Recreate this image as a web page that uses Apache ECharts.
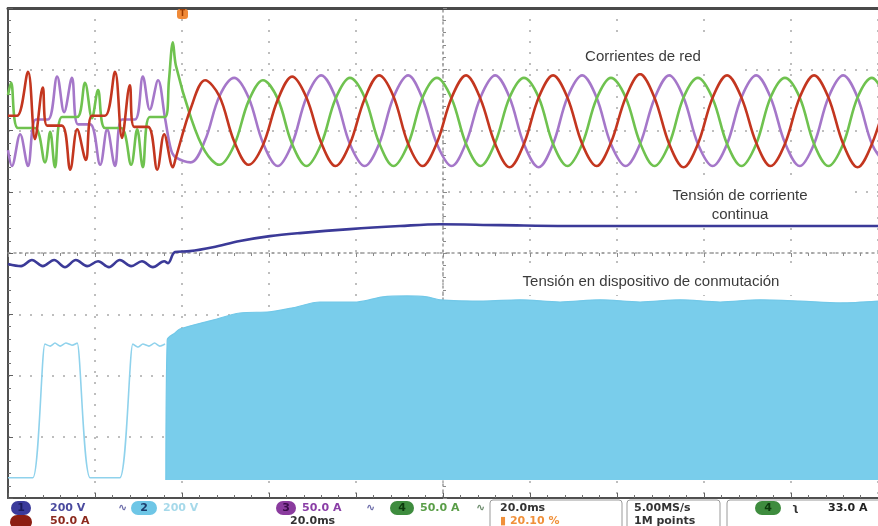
<!DOCTYPE html>
<html><head><meta charset="utf-8">
<script src="https://cdn.jsdelivr.net/npm/echarts@6/dist/echarts.min.js"></script>
<style>html,body{margin:0;padding:0;background:#fff}#c{width:878px;height:526px}</style>
</head><body><div id="c"></div>
<script>
// ---- time axis (ms), 20 ms/div, 10 divisions ----
const timeRange = [0, 200];
const triggerAt = 40;

// ---- phase currents before the converter starts (t ms, A) ----
const redStart = [[0,4],[2.1,4],[4.6,40],[6.2,-15],[8.0,27],[9.0,-4],[12.4,-4],[14.3,-40],[15.9,-7],[17.9,-32],[19.3,4],[22.3,4],[24.6,40],[26.2,-14],[28.0,29],[29.0,-5],[32.2,-5],[34.3,-40],[35.9,-11],[37.9,-38]];
const purpleStart = [[0,-24],[0.9,-37],[2.8,-11],[4.6,-37],[6.4,1],[9.2,1],[11.3,36],[12.9,7],[14.7,35],[16.1,-3],[18.9,-3],[21.2,-36],[22.8,-7],[24.6,-37],[26.2,1],[29.2,1],[31.0,36],[32.6,9],[34.5,33],[36.1,2],[37.5,-24]];
const greenStart = [[0,21],[0.7,31],[2.3,-6],[6.2,-6],[8.5,-34],[9.7,-9],[10.8,-38],[12.4,3],[15.9,3],[17.7,31],[19.3,2],[20.7,25],[22.3,-6],[26.0,-6],[28.3,-36],[29.7,-7],[31.0,-38],[32.6,3],[36.1,3],[37.0,33],[37.9,64]];

// ---- phase currents after start (shared time samples, ms) ----
const tMain = [38.6,42.0,45.3,48.6,52.0,55.3,58.6,62.0,65.3,68.6,72.0,75.3,78.6,82.0,85.3,88.6,92.0,95.3,98.6,102.0,105.3,108.6,112.0,115.3,118.6,122.0,125.3,128.6,132.0,135.3,138.6,142.0,145.3,148.6,152.0,155.3,158.6,162.0,165.3,168.6,172.0,175.3,178.6,182.0,185.3,188.6,192.0,195.3,198.6,202.0];
const redMain = [-30,10,33,20,-17,-36, -20,17,36,19,-18,-37, -19,18,37,20,-19,-37, -18,19,37,18,-19,-38, -19,19,37,19,-19,-37, -18,19,38,19,-19,-38, -19,19,37,19,-18,-37, -19,19,37,19,-19,-38, -19,19];
const greenMain = [45,3,-25,-36,-20,16, 33,18,-19,-37,-19,18, 35,19,-18,-37,-19,19, 35,18,-19,-37,-18,19, 35,19,-19,-37,-19,18, 35,19,-18,-37,-19,19, 35,18,-19,-37,-19,19, 35,19,-19,-37,-19,19, 35,18];
const purpleMain = [-30,-34,-16,20,35,19, -18,-37,-19,19,37,19, -19,-37,-19,19,37,18, -19,-37,-18,19,37,19, -19,-38,-19,19,37,19, -19,-37,-19,18,37,19, -19,-37,-19,19,37,19, -18,-37,-19,19,37,19, -19,-37];

// ---- DC link voltage (t ms, V) ----
const dcVoltage = [[0,562],[3.0,555],[5.5,575],[8.0,555],[10.6,575],[13.1,552],[15.6,575],[18.2,555],[20.7,571],[23.2,552],[25.7,575],[28.3,555],[30.8,571],[33.3,552],[35.9,571],[36.8,565],[38.4,601],[41.8,604],[47.1,617],[53.3,637],[60.2,653],[67.1,663],[78.6,676],[90.1,686],[99.3,692],[113.1,689],[136.1,686],[159.1,686],[182.1,686],[200,686]];

// ---- switching device voltage (t ms, V) ----
const switchTrace = [[0,7],[5.7,7],[8.5,444],[9.7,437],[10.8,447],[12.0,437],[13.3,447],[14.7,440],[15.9,447],[18.9,7],[25.7,7],[28.7,444],[29.9,434],[31.0,444],[32.4,437],[33.7,447],[34.9,437],[36.1,444]];
const switchEnvelope = [[36.3,0],[36.6,457],[38.4,480],[39.5,493],[47.1,522],[53.3,545],[60.2,549],[65.5,562],[71.7,581],[80.2,581],[86.2,598],[91.7,601],[96.3,598],[99.3,588],[109.2,584],[117.7,588],[126.9,581],[136.1,588],[145.3,581],[154.5,588],[163.7,581],[172.9,588],[182.1,584],[191.3,578],[200,584]];

// ---- channel scales (value range shown on screen, 8 divisions) ----
const currentRange = [-308, 92];   // 50 A/div
const dcRange = [-202, 1398];      // 200 V/div
const switchRange = [-59, 1541];   // 200 V/div

// ---- labels ----
const labelCurrents = 'Corrientes de red';
const labelDC = 'Tensión de corriente\ncontinua';
const labelSwitch = 'Tensión en dispositivo de conmutación';

function zip(t, v) { return t.map((x, i) => [x, v[i]]); }

const chart = echarts.init(document.getElementById('c'), null, {renderer: 'canvas'});

const dotted = {color: '#a9a9a9', type: [2, 9], width: 1.5};
const hidden = {show: false};

const lineSeries = (name, yi, data, color, width, smooth, z) => ({
  name, type: 'line', xAxisIndex: 0, yAxisIndex: yi, data,
  symbol: 'none', showSymbol: false, smooth: smooth, animation: false, z: z,
  lineStyle: {color: color, width: width}
});

const option = {
  backgroundColor: '#ffffff',
  animation: false,
  grid: {left: 8, right: 0, top: 8, bottom: 28, outerBoundsMode: 'none', containLabel: false},
  xAxis: [
    {type: 'value', min: timeRange[0], max: timeRange[1], interval: 20, position: 'bottom',
     axisLine: {show: true, onZero: false, lineStyle: {color: '#505050', width: 2}},
     axisTick: {show: true, inside: true, length: 5, lineStyle: {color: '#606060'}},
     minorTick: {show: true, splitNumber: 5, length: 3, lineStyle: {color: '#707070'}},
     splitLine: {show: true, lineStyle: dotted}, axisLabel: hidden},
    {type: 'value', min: -5, max: 5, interval: 1,
     axisLine: {show: true, onZero: true, onZeroAxisIndex: 0, lineStyle: {color: '#9a9a9a', type: [2, 4], width: 1.5}},
     axisTick: {show: true, inside: true, length: 4, lineStyle: {color: '#8a8a8a'}},
     minorTick: {show: true, splitNumber: 5, length: 3, lineStyle: {color: '#8a8a8a'}},
     splitLine: hidden, axisLabel: hidden},
    {type: 'value', min: 0, max: 1, position: 'top',
     axisLine: {show: true, onZero: false, lineStyle: {color: '#4a4a4a', width: 3}},
     axisTick: hidden, splitLine: hidden, axisLabel: hidden}
  ],
  yAxis: [
    {type: 'value', min: -4, max: 4, interval: 1, position: 'left',
     axisLine: {show: true, onZero: true, onZeroAxisIndex: 1, lineStyle: {color: '#9a9a9a', type: [2, 4], width: 1.5}},
     axisTick: {show: true, inside: true, length: 4, lineStyle: {color: '#8a8a8a'}},
     minorTick: {show: true, splitNumber: 5, length: 3, lineStyle: {color: '#8a8a8a'}},
     splitLine: {show: true, lineStyle: dotted}, axisLabel: hidden},
    {type: 'value', min: -4, max: 4, interval: 1, position: 'left',
     axisLine: {show: true, onZero: false, lineStyle: {color: '#505050', width: 2}},
     axisTick: {show: true, inside: true, length: 5, lineStyle: {color: '#606060'}},
     minorTick: {show: true, splitNumber: 5, length: 3, lineStyle: {color: '#707070'}},
     splitLine: hidden, axisLabel: hidden},
    {type: 'value', min: currentRange[0], max: currentRange[1], show: false},
    {type: 'value', min: dcRange[0], max: dcRange[1], show: false},
    {type: 'value', min: switchRange[0], max: switchRange[1], show: false}
  ],
  series: [
    lineSeries('Ch2 trace', 4, switchTrace, '#8fd2ec', 1.6, 0.2, 2),
    Object.assign(lineSeries('Ch2', 4, switchEnvelope, '#72c8e8', 1.2, 0.3, 2),
      {areaStyle: {color: '#79cdeb', opacity: 1, origin: 'auto'}}),
    lineSeries('Ch1', 3, dcVoltage, '#3b3a98', 2.6, 0.35, 3),
    lineSeries('Ch3', 2, purpleStart.concat(zip(tMain, purpleMain)), '#a577c9', 2.6, 0.35, 4),
    lineSeries('Ch4', 2, greenStart.concat(zip(tMain, greenMain)), '#6fc24f', 2.6, 0.35, 5),
    lineSeries('Ch5', 2, redStart.concat(zip(tMain, redMain)), '#c3361f', 2.6, 0.35, 6)
  ]
};
chart.setOption(option);

// ---- annotations and status bar ----
const labelFont = '15px "Liberation Sans", Arial, sans-serif';
const barFont = 'bold 11px "DejaVu Sans", sans-serif';
const g = [];
function box(x, y, w, h, fill, stroke, r) {
  g.push({type: 'rect', z: 50, shape: {x, y, width: w, height: h, r: r || 0},
          style: {fill: fill, stroke: stroke || null, lineWidth: 1}});
}
function txt(x, y, s, color, font, align) {
  g.push({type: 'text', z: 51, x: x, y: y,
          style: {text: s, fill: color, font: font, align: align || 'left', verticalAlign: 'middle', lineHeight: 19}});
}
// labels
box(572, 40, 170, 33, '#ffffff');
txt(643, 57, labelCurrents, '#3b3b3b', labelFont, 'center');
box(642, 183, 208, 39, '#ffffff');
txt(740, 205, labelDC, '#3b3b3b', labelFont, 'center');
box(460, 267, 382, 28, '#ffffff');
txt(651, 282, labelSwitch, '#3b3b3b', labelFont, 'center');

// trigger marker
const tx = chart.convertToPixel({xAxisIndex: 0}, triggerAt);
box(tx - 5, 9, 11, 10, '#f08a38', null, 3);
txt(tx + 0.5, 14, 'T', '#9a3a00', 'bold 8px "DejaVu Sans"', 'center');

// status bar row 1
box(11, 501, 20, 14, '#3b3b9b', null, 7);
txt(21, 508, '1', '#1c1c5c', barFont, 'center');
txt(50, 508, '200 V', '#4a4a9e', barFont);
txt(118, 508, '∿', '#6a6aa8', barFont);
box(131, 501, 26, 14, '#6ec6e6', null, 7);
txt(144, 508, '2', '#1c3c6c', barFont, 'center');
txt(163, 508, '200 V', '#a6d9ea', barFont);
box(276, 501, 20, 14, '#8a3b9e', null, 7);
txt(286, 508, '3', '#3a0c4a', barFont, 'center');
txt(302, 508, '50.0 A', '#8a3ea6', barFont);
txt(366, 508, '∿', '#6a6aa8', barFont);
box(390, 501, 24, 14, '#3e8c3e', null, 7);
txt(402, 508, '4', '#0c3a0c', barFont, 'center');
txt(420, 508, '50.0 A', '#5a9e48', barFont);
txt(476, 508, '∿', '#6a8a6a', barFont);
box(490, 500, 132, 32, null, '#9a9a9a', 3);
txt(500, 508, '20.0ms', '#333333', barFont);
txt(500, 521, '▮ 20.10 %', '#f0903a', barFont);
box(627, 500, 93, 32, null, '#9a9a9a', 3);
txt(634, 508, '5.00MS/s', '#333333', barFont);
txt(634, 521, '1M points', '#333333', barFont);
box(727, 500, 160, 32, null, '#9a9a9a', 3);
box(755, 501, 26, 14, '#3e8c3e', null, 7);
txt(768, 508, '4', '#0c3a0c', barFont, 'center');
txt(792, 508, 'ʅ', '#333333', barFont);
txt(828, 508, '33.0 A', '#222222', barFont);
// status bar row 2
box(10, 515, 22, 14, '#8c1e12', null, 7);
txt(50, 521, '50.0 A', '#8c2a1e', barFont);
txt(290, 521, '20.0ms', '#333333', barFont);

chart.setOption({graphic: {elements: g}});
</script>
</body></html>
